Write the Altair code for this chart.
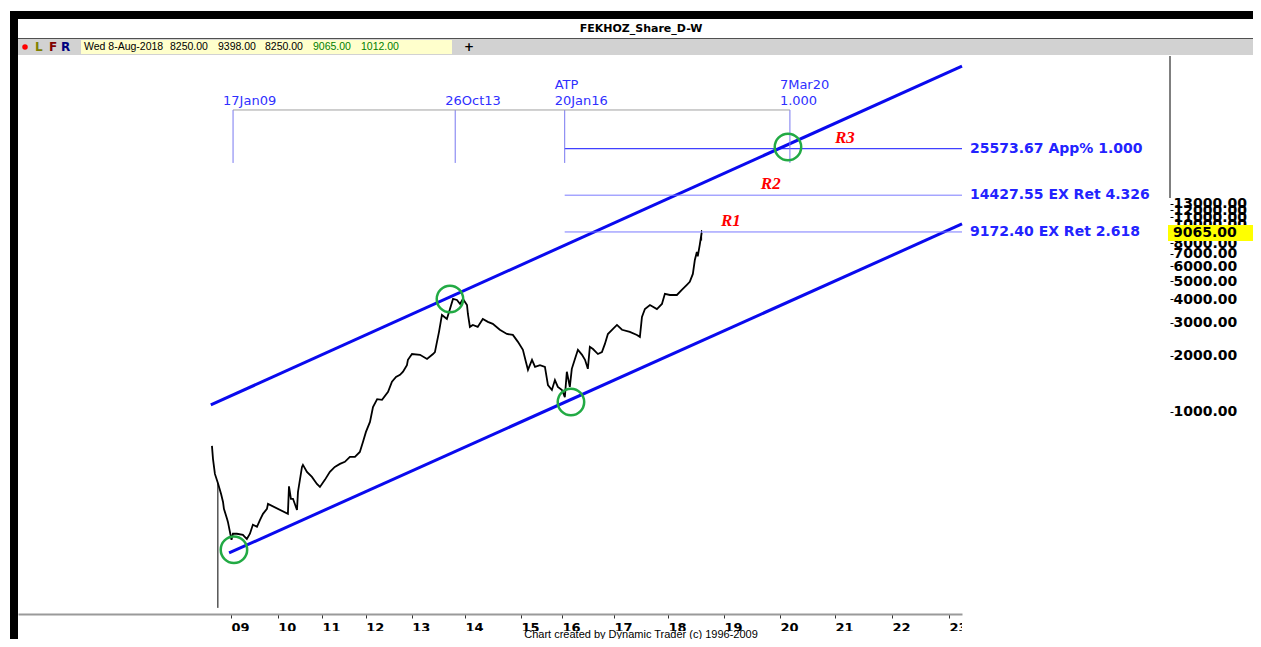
import altair as alt
import numpy as np
import pandas as pd

# ---------------- data ----------------
price_dates = [
    "2008-08-06", "2008-08-14", "2008-08-29", "2008-09-21", "2008-10-16", "2008-10-31",
    "2008-11-07", "2008-12-01", "2008-12-08", "2009-01-05", "2009-01-16", "2009-02-16",
    "2009-04-04", "2009-05-05", "2009-05-29", "2009-06-21", "2009-07-23", "2009-08-15",
    "2009-09-08", "2009-10-09", "2009-10-17", "2010-03-26", "2010-04-04", "2010-04-20",
    "2010-05-07", "2010-06-09", "2010-06-17", "2010-07-20", "2010-07-28", "2010-08-30",
    "2010-10-10", "2010-11-20", "2010-12-15", "2011-01-25", "2011-03-08", "2011-04-18",
    "2011-05-31", "2011-07-11", "2011-08-22", "2011-10-03", "2011-11-13", "2011-12-09",
    "2012-01-03", "2012-02-04", "2012-02-28", "2012-04-01", "2012-05-10", "2012-06-27",
    "2012-07-28", "2012-08-29", "2012-09-30", "2012-10-24", "2012-11-24", "2012-12-02",
    "2013-01-03", "2013-02-27", "2013-04-16", "2013-05-27", "2013-06-09", "2013-06-23",
    "2013-07-07", "2013-07-27", "2013-08-30", "2013-09-20", "2013-10-11", "2013-11-07",
    "2013-11-28", "2013-12-18", "2014-01-14", "2014-01-20", "2014-02-02", "2014-02-21",
    "2014-03-25", "2014-04-27", "2014-05-30", "2014-07-01", "2014-08-16", "2014-10-01",
    "2014-11-09", "2014-12-12", "2015-01-18", "2015-02-14", "2015-03-04", "2015-04-09",
    "2015-05-06", "2015-06-19", "2015-08-02", "2015-08-29", "2015-10-03", "2015-10-30",
    "2015-11-25", "2016-01-01", "2016-01-21", "2016-02-04", "2016-02-25", "2016-03-10",
    "2016-04-01", "2016-04-22", "2016-05-21", "2016-06-11", "2016-07-01", "2016-07-15",
    "2016-08-06", "2016-09-10", "2016-10-08", "2016-10-29", "2016-11-19", "2016-12-25",
    "2017-01-21", "2017-02-24", "2017-04-18", "2017-06-05", "2017-06-25", "2017-07-09",
    "2017-07-29", "2017-09-01", "2017-10-18", "2017-11-21", "2017-12-11", "2018-01-13",
    "2018-02-28", "2018-04-01", "2018-05-04", "2018-05-23", "2018-06-12", "2018-06-25",
    "2018-07-08", "2018-07-14", "2018-07-27", "2018-08-08",
]
price_values = [
    658, 561, 466, 417, 364, 330,
    303, 268, 258, 207, 223, 223,
    220, 209, 223, 249, 243, 264,
    285, 303, 322, 285, 400, 343,
    343, 299, 373, 508, 521, 478,
    449, 412, 397, 433, 478, 508,
    527, 541, 575, 575, 611, 691,
    782, 884, 1060, 1170, 1160, 1280,
    1450, 1540, 1580, 1640, 1780, 1900,
    2040, 2020, 1920, 2040, 2090, 2370,
    2680, 3300, 3140, 3550, 4020, 3970,
    3780, 4020, 3730, 3340, 2850, 2920,
    2850, 3140, 3030, 2960, 2750, 2610,
    2580, 2370, 2150, 1850, 1680, 1900,
    1740, 1780, 1740, 1390, 1310, 1480,
    1360, 1310, 1200, 1640, 1360, 1700,
    1920, 2150, 2020, 1900, 1700, 2230,
    2170, 2040, 2090, 2310, 2610, 2780,
    2920, 2750, 2680, 2580, 2520, 3220,
    3550, 3730, 3550, 3780, 4280, 4220,
    4220, 4490, 4780, 4960, 5470, 6500,
    7170, 6800, 7820, 9065,
]

# high-low wicks: the bad-tick first bars and the last bar (8-Aug-2018, L 8250 / H 9398)
wick_dates = ["2008-09-21", "2018-08-08"]
wick_lows = [89.5, 8250.0]
wick_highs = [417, 9398.0]

# year ticks of the trading-bar time axis (uneven in calendar time)
year_tick_dates = [f"{y}-01-01" for y in range(2009, 2024)]
year_tick_labels = ["09", "10", "11", "12", "13", "14", "15", "16", "17", "18", "19", "20", "21", "22", "23"]
axis_start_date = "2004-06-21"
axis_end_date = "2023-03-25"
# bar position of each axis break (start, each year, end)
axis_break_bars = [0, 213, 259.7, 304, 347.7, 393.7, 447, 503, 544, 596, 650, 706, 762, 817, 874, 931, 944]

y_ticks = [1000, 2000, 3000, 4000, 5000, 6000, 7000, 8000, 9000, 10000, 11000, 12000, 13000]
y_domain = [83.0, 80100]
last_close = 9065.00

# channel lines
upper_dates = ["2008-07-28", axis_end_date]
upper_prices = [1090, 70800]
lower_dates = ["2008-12-17", axis_end_date]
lower_prices = [176, 10120]

# green circles (channel touches)
circle_dates = ["2009-01-24", "2013-09-20", "2016-03-04", "2020-02-23"]
circle_prices = [183, 4020, 1131, 26140]

# price targets
level_values = [25573.67, 14427.55, 9172.40]
level_labels = ["25573.67 App% 1.000", "14427.55 EX Ret 4.326", "9172.40 EX Ret 2.618"]
level_colors = ["#1010ff", "#7a7aff", "#7a7aff"]
level_start = "2016-01-20"
r_names = ["R3", "R2", "R1"]
r_dates = ["2021-03-05", "2019-11-02", "2019-02-15"]

# time markers
marker_dates = ["2009-01-17", "2013-10-26", "2016-01-20", "2020-03-07"]
marker_line1 = ["", "", "ATP", "7Mar20"]
marker_line2 = ["17Jan09", "26Oct13", "20Jan16", "1.000"]
marker_top = 41200
marker_bottom = 21460

title_text = "FEKHOZ_Share_D-W"
info_fields = ["Wed 8-Aug-2018", "8250.00", "9398.00", "8250.00", "9065.00", "1012.00"]
info_colors = ["#000000", "#000000", "#000000", "#000000", "#008000", "#008000"]
footer_text = "Chart created by Dynamic Trader  (c) 1996-2009"

# ---------------- date -> bar position ----------------
break_dates = [axis_start_date] + year_tick_dates + [axis_end_date]
_break_ns = pd.to_datetime(break_dates).values.astype("int64")


def bar(dates):
    ns = pd.to_datetime(list(dates)).values.astype("int64")
    return np.interp(ns, _break_ns, axis_break_bars)


W, H = 944, 558
x_scale = alt.Scale(domain=[axis_break_bars[0], axis_break_bars[-1]], nice=False, zero=False)
y_scale = alt.Scale(type="log", domain=y_domain, nice=False, zero=False)

tick_bars = axis_break_bars[1:-1]
label_map = "{" + ",".join(f"'{b}':'{l}'" for b, l in zip(tick_bars, year_tick_labels)) + "}"

x_axis = alt.Axis(
    values=tick_bars,
    labelExpr=f"{label_map}[''+datum.value]",
    title=None, grid=False, zindex=0,
    domainColor="#9a9a9a", domainWidth=2,
    tickColor="#333333", tickSize=4, tickWidth=1,
    labelFont="DejaVu Sans", labelFontWeight="bold", labelFontSize=13, labelColor="#000000",
    labelAlign="left", labelPadding=3, labelBaseline="top", labelFlush=False, labelOverlap=False,
)
y_axis = alt.Axis(
    orient="right", offset=208, values=y_ticks, format=".2f",
    title=None, grid=False, domain=False, zindex=0,
    tickColor="#000000", tickSize=3, tickWidth=1,
    labelFont="DejaVu Sans", labelFontWeight="bold", labelFontSize=14, labelColor="#000000",
    labelPadding=0, labelOverlap=False, labelFlush=False,
)


def X(f="x"):
    return alt.X(f"{f}:Q", scale=x_scale, axis=x_axis)


def Y(f="price"):
    return alt.Y(f"{f}:Q", scale=y_scale, axis=y_axis)


# ---------------- frame decorations ----------------
frame = pd.DataFrame({
    "px": [-8, -8, 0, 0, 63, 0, 944],
    "px2": [1243, 0, 1243, 1243, 434, 944, 962],
    "py": [-45, -45, -18, -17, -16, 575, 560],
    "py2": [-37, 583, -17, -1, -2, 583, 583],
    "fill": ["#000000", "#000000", "#505050", "#d2d2d2", "#ffffcc", "#ffffff", "#ffffff"],
})
frame_layer = alt.Chart(frame).mark_rect().encode(
    x=alt.X("px:Q", scale=None), x2="px2", y=alt.Y("py:Q", scale=None), y2="py2",
    fill=alt.Fill("fill:N", scale=None),
)

tool_text = pd.DataFrame({
    "t": ["L", "F", "R", "+"],
    "px": [17, 31, 43, 446],
    "c": ["#808000", "#800000", "#000080", "#000000"],
})
tool_layer = alt.Chart(tool_text).mark_text(
    font="DejaVu Sans", fontWeight="bold", fontSize=12, align="left", baseline="middle"
).encode(x=alt.X("px:Q", scale=None), y=alt.value(-9), text="t:N", color=alt.Color("c:N", scale=None))

dot_layer = alt.Chart(pd.DataFrame({"a": [0]})).mark_point(
    shape="circle", filled=True, size=30, color="#ff0000", opacity=1
).encode(x=alt.value(7), y=alt.value(-9))

info = pd.DataFrame({"t": info_fields, "px": [66, 152, 200, 247, 295, 343], "c": info_colors})
info_layer = alt.Chart(info).mark_text(
    font="Liberation Sans", fontSize=10.5, align="left", baseline="middle"
).encode(x=alt.X("px:Q", scale=None), y=alt.value(-9), text="t:N", color=alt.Color("c:N", scale=None))

title_layer = alt.Chart(pd.DataFrame({"t": [title_text]})).mark_text(
    font="DejaVu Sans", fontWeight="bold", fontSize=11, align="center", baseline="middle", color="#000000"
).encode(x=alt.value(623), y=alt.value(-27), text="t:N")

footer_layer = alt.Chart(pd.DataFrame({"t": [footer_text]})).mark_text(
    font="Liberation Sans", fontSize=11, align="center", baseline="middle", color="#000000"
).encode(x=alt.value(623), y=alt.value(579), text="t:N")

yline_layer = alt.Chart(pd.DataFrame({"a": [0]})).mark_rule(color="#000000", strokeWidth=1).encode(
    x=alt.value(1152), y=alt.value(0), y2=alt.value(142)
)

# ---------------- data layers ----------------
price_df = pd.DataFrame({"x": bar(price_dates), "price": price_values})
price_layer = alt.Chart(price_df).mark_line(color="#000000", strokeWidth=1.8).encode(x=X(), y=Y())

wick_df = pd.DataFrame({"x": bar(wick_dates), "lo": wick_lows, "hi": wick_highs})
wick_layer = alt.Chart(wick_df).mark_rule(color="#000000", strokeWidth=1).encode(
    x=X(), y=Y("lo"), y2="hi:Q"
)

chan_df = pd.DataFrame({
    "x": bar(upper_dates + lower_dates),
    "price": upper_prices + lower_prices,
    "line": ["upper", "upper", "lower", "lower"],
})
chan_layer = alt.Chart(chan_df).mark_line(color="#0a0aee", strokeWidth=3).encode(
    x=X(), y=Y(), detail="line:N"
)

lev_df = pd.DataFrame({
    "x": bar([level_start] * 3), "xe": bar([axis_end_date] * 3),
    "price": level_values, "label": level_labels, "c": level_colors,
})
lev_rule = alt.Chart(lev_df).mark_rule(strokeWidth=1).encode(
    x=X(), x2="xe:Q", y=Y(), color=alt.Color("c:N", scale=None)
)
lev_text = alt.Chart(lev_df).mark_text(
    font="DejaVu Sans", fontWeight="bold", fontSize=14, align="left", baseline="middle", dx=8, color="#2323ff"
).encode(x=X("xe"), y=Y(), text="label:N")

r_df = pd.DataFrame({"x": bar(r_dates), "price": level_values, "t": r_names})
r_layer = alt.Chart(r_df).mark_text(
    font="Liberation Serif", fontWeight="bold", fontStyle="italic", fontSize=17,
    align="center", baseline="middle", dy=-11, color="#ff0000"
).encode(x=X(), y=Y(), text="t:N")

mk_df = pd.DataFrame({
    "x": bar(marker_dates), "top": [marker_top] * 4, "bottom": [marker_bottom] * 4,
    "l1": marker_line1, "l2": marker_line2,
})
mk_rule = alt.Chart(mk_df).mark_rule(color="#7878f0", strokeWidth=1).encode(
    x=X(), y=Y("top"), y2="bottom:Q"
)
conn_df = pd.DataFrame({"x": bar(marker_dates[:1]), "xe": bar(marker_dates[-1:]), "price": [marker_top]})
conn_rule = alt.Chart(conn_df).mark_rule(color="#a0a0a0", strokeWidth=1).encode(
    x=X(), x2="xe:Q", y=Y()
)
mk_t1 = alt.Chart(mk_df).mark_text(
    font="DejaVu Sans", fontSize=13, align="left", baseline="middle", dx=-10, dy=-25, color="#3030ff"
).encode(x=X(), y=Y("top"), text="l1:N")
mk_t2 = alt.Chart(mk_df).mark_text(
    font="DejaVu Sans", fontSize=13, align="left", baseline="middle", dx=-10, dy=-9, color="#3030ff"
).encode(x=X(), y=Y("top"), text="l2:N")

circ_df = pd.DataFrame({"x": bar(circle_dates), "price": circle_prices})
circ_layer = alt.Chart(circ_df).mark_point(
    shape="circle", filled=False, size=700, color="#22aa44", strokeWidth=2.5, opacity=1
).encode(x=X(), y=Y())

last_df = pd.DataFrame({"price": [last_close], "t": [f"{last_close:.2f}"]})
last_box = alt.Chart(last_df).mark_point(
    shape="M-1,-0.157L1,-0.157L1,0.157L-1,0.157Z", filled=True, size=10404, color="#ffff00", opacity=1
).encode(x=alt.value(1201), y=Y())
last_text = alt.Chart(last_df).mark_text(
    font="DejaVu Sans", fontWeight="bold", fontSize=14, align="left", baseline="middle", color="#000000"
).encode(x=alt.value(1155), y=Y(), text="t:N")

chart = alt.layer(
    price_layer, frame_layer, wick_layer, chan_layer, lev_rule, mk_rule, conn_rule,
    lev_text, r_layer, mk_t1, mk_t2, circ_layer, last_box, last_text,
    tool_layer, dot_layer, info_layer, title_layer, footer_layer, yline_layer,
).properties(
    width=W, height=H,
    padding={"left": 10, "top": 48, "right": 291, "bottom": 25},
    autosize=alt.AutoSizeParams(type="none"),
    background="#ffffff",
).configure_view(stroke=None)

chart.save("out.html", embed_options={"renderer": "svg", "actions": False})
